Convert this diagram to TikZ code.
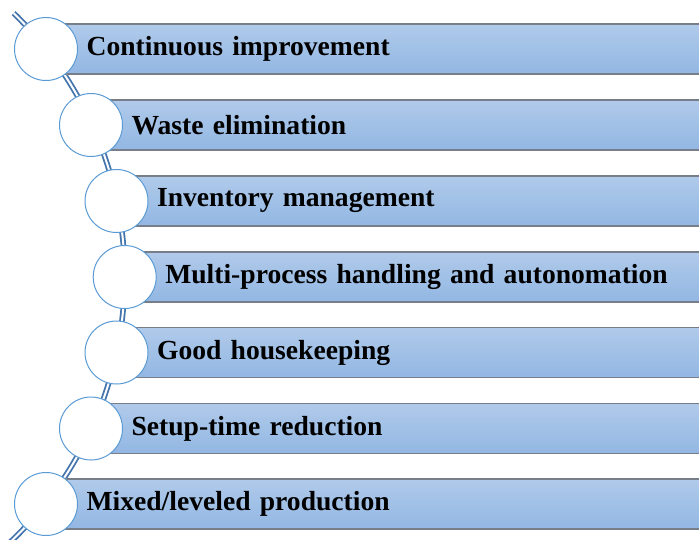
\documentclass[tikz,border=0pt]{standalone}
\usepackage{fontspec}
\setmainfont{Liberation Serif}
\usepackage{tikz}

\definecolor{barTop}{RGB}{176,202,234}
\definecolor{barBot}{RGB}{146,183,227}
\definecolor{ringBlue}{RGB}{91,155,213}
\definecolor{spineBlue}{RGB}{68,116,172}
\definecolor{barEdge}{RGB}{120,126,136}

\begin{document}
\begin{tikzpicture}[
		x=1pt, y=-1pt,
		spine/.style={draw=spineBlue, line width=1.8pt, double=white, double distance=2pt},
		bar/.style={rectangle, anchor=west, draw=barEdge, line width=1.2pt,
			top color=barTop, bottom color=barBot, minimum height=50pt,
			inner xsep=40pt, text width=620pt, align=left,
			font=\fontsize{27.6}{32}\selectfont\bfseries},
		ring/.style={circle, draw=ringBlue, line width=1pt, fill=white,
			minimum size=63pt, inner sep=0pt}
	]
  \useasboundingbox (0,0) rectangle (699,539);
  \clip (0,0) rectangle (699,539);
  \fill[white] (0,0) rectangle (699,539);
  \draw[spine] plot[domain=-45.8:49, samples=80, smooth] ({-242+366.7*cos(\x)}, {276+366.7*sin(\x)});
  \node (b_1) [bar] at (46, 49) {Continuous improvement};
  \node (b_2) [bar] at (91, 125) {Waste elimination};
  \node (b_3) [bar] at (116.5, 201) {Inventory management};
  \node (b_4) [bar] at (124.7, 277) {Multi-process handling and autonomation};
  \node (b_5) [bar] at (116.5, 352.5) {Good housekeeping};
  \node (b_6) [bar] at (91, 428.5) {Setup-time reduction};
  \node (b_7) [bar] at (46, 504) {Mixed/leveled production};
  \node (c_1) [ring] at (46, 49) {};
  \node (c_2) [ring] at (91, 125) {};
  \node (c_3) [ring] at (116.5, 201) {};
  \node (c_4) [ring] at (124.7, 277) {};
  \node (c_5) [ring] at (116.5, 352.5) {};
  \node (c_6) [ring] at (91, 428.5) {};
  \node (c_7) [ring] at (46, 504) {};
\end{tikzpicture}
\end{document}
